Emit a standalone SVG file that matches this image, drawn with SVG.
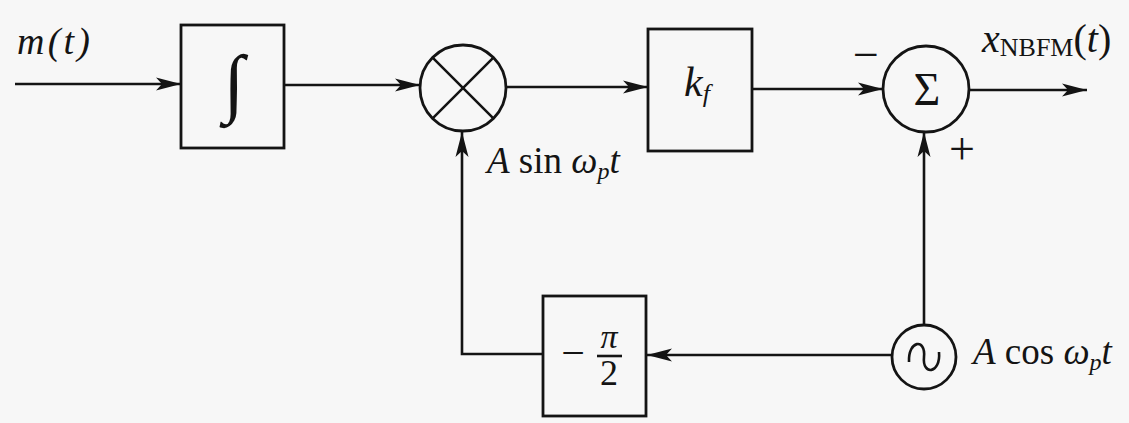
<svg xmlns="http://www.w3.org/2000/svg" width="1129" height="423" viewBox="0 0 1129 423">
<style>
.ln{fill:none;stroke:#141414;stroke-width:2.6}
.bx{fill:none;stroke:#141414;stroke-width:2.8}
.t{font-family:"Liberation Serif","Times New Roman",serif;fill:#141414}
.i{font-style:italic}
</style>
<defs>
<marker id="ar" markerUnits="userSpaceOnUse" viewBox="-26 -8 28 16" markerWidth="28" markerHeight="16" refX="0" refY="0" orient="auto">
<path d="M0,0 L-25,-6.5 L-19,0 L-25,6.5 Z" fill="#141414"/>
</marker>
</defs>
<rect width="1129" height="423" fill="#f7f7f7"/>
<g id="connectors">
<path class="ln" d="M15,84 H181" marker-end="url(#ar)"/>
<path class="ln" d="M284,85 H420" marker-end="url(#ar)"/>
<path class="ln" d="M507,87 H648" marker-end="url(#ar)"/>
<path class="ln" d="M752,89 H883" marker-end="url(#ar)"/>
<path class="ln" d="M969,90 H1087" marker-end="url(#ar)"/>
<path class="ln" d="M924,325 V132" marker-end="url(#ar)"/>
<path class="ln" d="M892,355 H647" marker-end="url(#ar)"/>
<path class="ln" d="M543,354 H462 V132" marker-end="url(#ar)"/>
</g>
<g id="input-label">
<text class="t i" x="17" y="54" font-size="38" textLength="73" lengthAdjust="spacing">m(t)</text>
</g>
<g id="integrator">
<rect class="bx" x="181" y="25" width="103" height="123"/>
<text class="t" x="234" y="108" font-size="76" text-anchor="middle" font-style="italic">∫</text>
</g>
<g id="multiplier">
<circle class="bx" cx="463" cy="88" r="43"/>
<path class="ln" d="M432.6,57.6 L493.4,118.4 M493.4,57.6 L432.6,118.4"/>
<text class="t" x="487" y="173" font-size="37"><tspan font-style="italic">A</tspan> sin <tspan font-style="italic">ω</tspan><tspan font-style="italic" font-size="24" dy="6">p</tspan><tspan font-style="italic" dy="-6">t</tspan></text>
</g>
<g id="gain">
<rect class="bx" x="648" y="29" width="104" height="122"/>
<text class="t i" x="684" y="96" font-size="42">k<tspan font-size="26" dy="6">f</tspan></text>
</g>
<g id="summer">
<circle class="bx" cx="926" cy="89" r="43"/>
<text class="t" x="927" y="105" font-size="46" text-anchor="middle">Σ</text>
<text class="t" x="866" y="70" font-size="46" text-anchor="middle">−</text>
<text class="t" x="962" y="164" font-size="46" text-anchor="middle">+</text>
</g>
<g id="output-label">
<text class="t" x="982" y="52" font-size="40"><tspan font-style="italic">x</tspan><tspan font-size="26" dy="4">NBFM</tspan><tspan dy="-4" font-size="40">(</tspan><tspan font-style="italic" font-size="40">t</tspan><tspan font-size="40">)</tspan></text>
</g>
<g id="phase-shift">
<rect class="bx" x="543" y="296" width="103" height="120"/>
<text class="t" x="573" y="367" font-size="42" text-anchor="middle">−</text>
<text class="t i" x="609" y="348" font-size="34" text-anchor="middle">π</text>
<path class="ln" d="M597,356 H622"/>
<text class="t" x="609" y="385" font-size="36" text-anchor="middle">2</text>
</g>
<g id="oscillator">
<circle class="bx" cx="924" cy="357" r="32"/>
<path class="ln" d="M909,362 C908,340 926,338 924,357 C922,376 941,374 939,352"/>
<text class="t" x="973" y="364" font-size="37"><tspan font-style="italic">A</tspan> cos <tspan font-style="italic">ω</tspan><tspan font-style="italic" font-size="24" dy="6">p</tspan><tspan font-style="italic" dy="-6">t</tspan></text>
</g>
</svg>
